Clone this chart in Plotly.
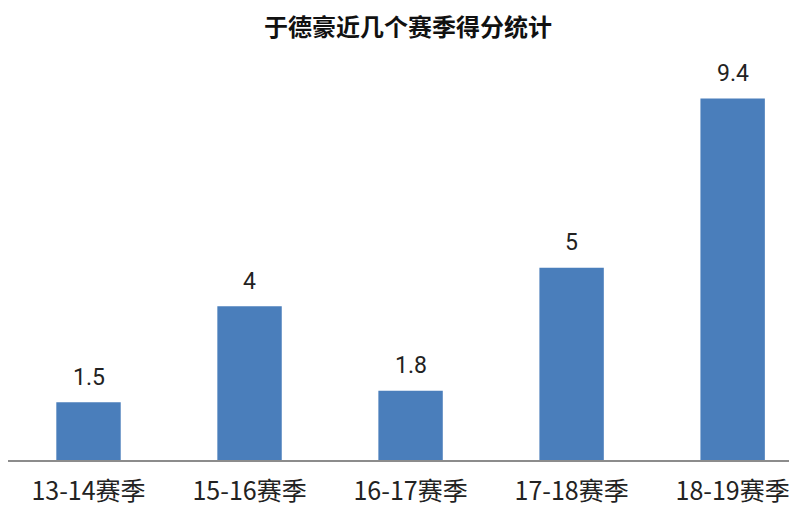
import plotly.graph_objects as go

categories = ["13-14赛季", "15-16赛季", "16-17赛季", "17-18赛季", "18-19赛季"]
points = [1.5, 4, 1.8, 5, 9.4]
value_labels = ["1.5", "4", "1.8", "5", "9.4"]
title_text = "于德豪近几个赛季得分统计"

font_family = "Noto Sans CJK SC, Roboto, sans-serif"
num_family = "Roboto, Noto Sans CJK SC, sans-serif"

fig = go.Figure(go.Bar(
    x=categories,
    y=points,
    marker=dict(color="#4a7ebb", line=dict(width=0)),
    width=0.4,
    hoverinfo="x+y",
))

for c, v, t in zip(categories, points, value_labels):
    fig.add_annotation(
        x=c, y=v, text=t, showarrow=False,
        yanchor="middle", yshift=25,
        font=dict(size=23, color="#222222", family=num_family),
    )

fig.update_layout(
    width=789,
    height=507,
    margin=dict(l=8, r=0, t=60, b=47),
    paper_bgcolor="white",
    plot_bgcolor="white",
    showlegend=False,
    title=dict(
        text=title_text,
        x=0.517, xanchor="center",
        y=0.946, yanchor="middle",
        font=dict(size=24, color="#111111", family=font_family, weight=600),
    ),
    xaxis=dict(
        range=[-0.5, 4.35],
        showline=True, linecolor="#8c8c8c", linewidth=2,
        ticks="", showgrid=False,
        ticklabelstandoff=8,
        tickfont=dict(size=25, color="#222222", family=font_family),
    ),
    yaxis=dict(
        range=[0, 10.4],
        visible=False, showgrid=False, zeroline=False,
    ),
)

fig.write_html("out.html", config={"displayModeBar": False},
               post_script="document.body.style.margin='0';")
